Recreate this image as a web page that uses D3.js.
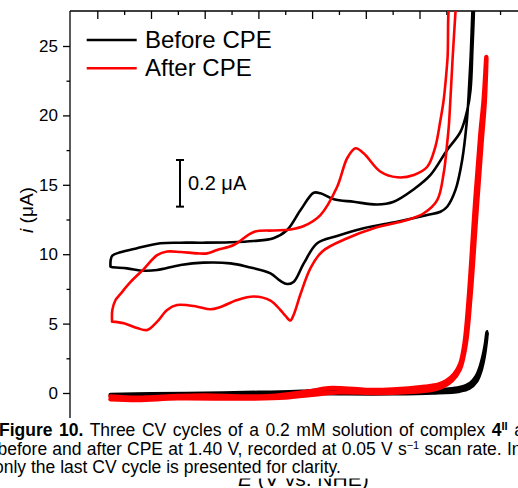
<!DOCTYPE html>
<html><head><meta charset="utf-8">
<script src="https://cdn.jsdelivr.net/npm/d3@7"></script>
<style>
html,body{margin:0;padding:0;background:#fff;}
svg{display:block;font-family:"Liberation Sans",Arial,Helvetica,sans-serif;}
</style></head><body>
<svg id="chart" width="518" height="488"></svg>
<script>
// Potential E (V vs. NHE), current i (µA)

// Expanded loops (scaled by the inset gain, drawn above the full-scale traces)
const beforeLoop = [
  [0.249, 9.11], [0.250, 9.60], [0.256, 9.90], [0.286, 10.14], [0.348, 10.43], [0.435, 10.79],
  [0.510, 10.83], [0.595, 10.83], [0.696, 10.86], [0.782, 10.95], [0.856, 11.15], [0.907, 11.74],
  [0.957, 13.18], [1.006, 14.43], [1.031, 14.39], [1.081, 13.96], [1.155, 13.78], [1.242, 13.58],
  [1.304, 13.78], [1.379, 14.68], [1.441, 15.71], [1.503, 17.51], [1.553, 18.83], [1.578, 20.39],
  [1.590, 21.83], [1.597, 24.71], [1.603, 28.3],
  [1.601, 28.7], [1.590, 23.99], [1.582, 21.11], [1.575, 19.31], [1.559, 16.79], [1.534, 14.63],
  [1.503, 13.42], [1.478, 13.06], [1.429, 12.82], [1.317, 12.34], [1.192, 11.87], [1.093, 11.31],
  [1.019, 10.79], [0.969, 9.34], [0.932, 8.02], [0.908, 7.85], [0.882, 8.07], [0.845, 8.62],
  [0.758, 9.10], [0.696, 9.34], [0.595, 9.39], [0.510, 9.22], [0.423, 8.86], [0.373, 8.81],
  [0.311, 8.98], [0.253, 9.08], [0.249, 9.11]
];
const afterLoop = [
  [0.255, 5.14], [0.256, 5.98], [0.268, 6.70], [0.286, 7.13], [0.324, 8.00], [0.373, 8.93],
  [0.423, 9.94], [0.460, 10.19], [0.510, 10.16], [0.572, 10.06], [0.609, 10.06], [0.646, 10.30],
  [0.708, 10.66], [0.783, 11.60], [0.857, 11.71], [0.919, 11.78], [0.969, 12.03], [1.031, 12.82],
  [1.093, 14.84], [1.131, 16.93], [1.162, 17.63], [1.192, 17.27], [1.255, 15.94], [1.317, 15.54],
  [1.379, 15.71], [1.429, 16.30], [1.459, 17.74], [1.478, 19.67], [1.490, 21.11], [1.504, 23.99],
  [1.519, 28.7],
  [1.538, 28.7], [1.534, 27.47], [1.523, 23.99], [1.515, 21.11], [1.509, 19.19], [1.503, 17.99],
  [1.490, 15.83], [1.466, 13.90], [1.416, 12.95], [1.354, 12.46], [1.230, 11.87], [1.131, 11.15],
  [1.038, 10.20], [0.994, 9.00], [0.957, 7.13], [0.931, 5.62], [0.919, 5.22], [0.901, 5.55],
  [0.882, 5.98], [0.845, 6.66], [0.783, 6.95], [0.721, 6.70], [0.659, 6.20], [0.621, 6.03],
  [0.572, 6.22], [0.497, 6.34], [0.460, 5.98], [0.423, 5.14], [0.386, 4.54], [0.348, 4.68],
  [0.299, 5.02], [0.255, 5.14]
];

// Full-scale traces
const beforeFull = [
  [0.249, -0.12], [0.40, -0.08], [0.60, -0.03], [0.80, 0.03], [0.96, 0.10], [1.03, 0.20],
  [1.10, 0.14], [1.25, 0.15], [1.40, 0.20], [1.50, 0.26], [1.55, 0.38], [1.59, 0.70],
  [1.612, 1.2], [1.627, 1.9], [1.638, 2.7], [1.646, 3.5], [1.652, 4.4],
  [1.648, 3.7], [1.640, 2.6], [1.628, 1.6], [1.612, 0.85], [1.585, 0.35], [1.55, 0.15],
  [1.45, 0.02], [1.30, -0.04], [1.10, -0.04], [0.95, -0.02], [0.80, -0.05], [0.60, -0.10],
  [0.40, -0.16], [0.249, -0.18]
];
const afterFull = [
  [0.249, -0.25], [0.35, -0.35], [0.50, -0.22], [0.60, -0.18], [0.75, -0.25], [0.85, -0.22],
  [0.95, 0.0], [1.00, 0.15], [1.06, 0.35], [1.12, 0.33], [1.20, 0.22], [1.30, 0.25],
  [1.42, 0.45], [1.47, 0.6], [1.50, 0.85], [1.53, 1.35], [1.552, 2.1], [1.568, 3.6],
  [1.583, 6.7], [1.608, 13.9], [1.627, 18.7], [1.639, 21.1], [1.649, 24.2],
  [1.643, 21.0], [1.631, 18.0], [1.612, 13.0], [1.59, 7.0], [1.572, 3.5], [1.55, 1.7],
  [1.52, 0.9], [1.47, 0.35], [1.40, 0.12], [1.25, 0.0], [1.10, 0.05], [1.00, -0.12],
  [0.90, -0.32], [0.75, -0.40], [0.50, -0.38], [0.35, -0.50], [0.249, -0.45]
];

const seriesNames = ["Before CPE", "After CPE"];
const seriesColors = ["#000000", "#ff0000"];

const yMajorTicks = [0, 5, 10, 15, 20, 25];
const yMinorTicks = [-2.5, 2.5, 7.5, 12.5, 17.5, 22.5];
const xMajorTicks = [0.2, 0.4, 0.6, 0.8, 1.0, 1.2, 1.4, 1.6, 1.8];
const xMinorTicks = [0.3, 0.5, 0.7, 0.9, 1.1, 1.3, 1.5, 1.7];

const scaleBarLabel = "0.2 μA";
const scaleBarCurrent = 0.2;   // µA represented by the bar
const insetGain = 16.8;        // expansion of the upper loops

const xTitle = "E (V vs. NHE)";
const captionLines = [
  [{t: "Figure 10.", b: true}, {t: " Three CV cycles of a 0.2 mM solution of complex "}, {t: "4", b: true}, {t: "II", b: true, sup: true}, {t: " a"}],
  [{t: "before and after CPE at 1.40 V, recorded at 0.05 V s"}, {t: "−1", sup: true}, {t: " scan rate. In"}],
  [{t: "only the last CV cycle is presented for clarity."}]
];

const W = 518, H = 488;
const plot = {left: 70, top: 11, bottom: 421};

const svg = d3.select("#chart");

const x = d3.scaleLinear().domain([0.2, 1.6]).range([97.3, 473.2]);
const y = d3.scaleLinear().domain([0, 25]).range([393, 46]);

svg.append("defs").append("clipPath").attr("id", "plotClip")
  .append("rect").attr("x", plot.left).attr("y", plot.top)
  .attr("width", W - plot.left + 20).attr("height", plot.bottom - plot.top);

// x-axis title sits low; the caption panel overlaps its upper part
svg.append("text").attr("x", 238).attr("y", 485.5)
  .attr("font-size", 21).attr("fill", "#000")
  .html('<tspan font-style="italic">E</tspan> (V vs. NHE)');

// axes
const axisColor = "#000";
svg.append("line").attr("x1", plot.left).attr("x2", plot.left)
  .attr("y1", plot.top).attr("y2", plot.bottom).attr("stroke", axisColor).attr("stroke-width", 1.3);
svg.append("line").attr("x1", plot.left).attr("x2", W + 5)
  .attr("y1", plot.top).attr("y2", plot.top).attr("stroke", axisColor).attr("stroke-width", 1.3);

const yAxis = svg.append("g").attr("transform", `translate(${plot.left},0)`)
  .call(d3.axisLeft(y).tickValues(yMajorTicks).tickSize(7).tickPadding(5).tickFormat(d3.format("d")));
yAxis.select(".domain").remove();
yAxis.selectAll(".tick line").attr("stroke-width", 1.3);
yAxis.selectAll(".tick text").attr("font-size", 17).attr("font-family", "Liberation Sans, Arial, sans-serif").attr("fill", "#000");

const yMinor = svg.append("g").attr("transform", `translate(${plot.left},0)`)
  .call(d3.axisLeft(y).tickValues(yMinorTicks).tickSize(3.5).tickFormat(""));
yMinor.select(".domain").remove();
yMinor.selectAll(".tick line").attr("stroke-width", 1.3);

const topMajor = svg.append("g").attr("transform", `translate(0,${plot.top})`)
  .call(d3.axisBottom(x).tickValues(xMajorTicks).tickSize(8).tickFormat(""));
topMajor.select(".domain").remove();
topMajor.selectAll(".tick line").attr("stroke-width", 1.3);
const topMinor = svg.append("g").attr("transform", `translate(0,${plot.top})`)
  .call(d3.axisBottom(x).tickValues(xMinorTicks).tickSize(4).tickFormat(""));
topMinor.select(".domain").remove();
topMinor.selectAll(".tick line").attr("stroke-width", 1.3);

// y title
svg.append("text")
  .attr("transform", "translate(33,210) rotate(-90)")
  .attr("text-anchor", "middle").attr("font-size", 19).attr("fill", "#000")
  .html('<tspan font-style="italic">i</tspan> (μA)');

// traces
const line = d3.line().x(d => x(d[0])).y(d => y(d[1])).curve(d3.curveCatmullRom.alpha(0.5));
const traces = svg.append("g").attr("clip-path", "url(#plotClip)")
  .attr("fill", "none").attr("stroke-linejoin", "round").attr("stroke-linecap", "round");

traces.append("path").datum(beforeLoop).attr("d", line)
  .attr("stroke", seriesColors[0]).attr("stroke-width", 2.6);
traces.append("path").datum(afterLoop).attr("d", line)
  .attr("stroke", seriesColors[1]).attr("stroke-width", 2.6);
traces.append("path").datum(beforeFull).attr("d", line)
  .attr("stroke", seriesColors[0]).attr("stroke-width", 4);
traces.append("path").datum(afterFull).attr("d", line)
  .attr("stroke", seriesColors[1]).attr("stroke-width", 4.5);

// legend
const legend = svg.append("g");
seriesNames.forEach((name, i) => {
  const ly = 40 + i * 28.3;
  legend.append("line").attr("x1", 86.7).attr("x2", 136.7).attr("y1", ly).attr("y2", ly)
    .attr("stroke", seriesColors[i]).attr("stroke-width", 2.6);
  legend.append("text").attr("x", 145).attr("y", ly + 7.5)
    .attr("font-size", 24).attr("fill", "#000").text(name);
});

// scale bar for the expanded loops
const barTop = 160;
const barLen = y(0) - y(scaleBarCurrent * insetGain);
const bar = svg.append("g").attr("stroke", "#000").attr("stroke-width", 2);
bar.append("line").attr("x1", 180).attr("x2", 180).attr("y1", barTop).attr("y2", barTop + barLen);
bar.append("line").attr("x1", 176).attr("x2", 184).attr("y1", barTop).attr("y2", barTop);
bar.append("line").attr("x1", 176).attr("x2", 184).attr("y1", barTop + barLen).attr("y2", barTop + barLen);
svg.append("text").attr("x", 188).attr("y", 190).attr("font-size", 20).attr("fill", "#000").text(scaleBarLabel);

// caption panel
svg.append("rect").attr("x", 0).attr("y", 418).attr("width", W).attr("height", 60.5).attr("fill", "#fff");
const capX = [-1, -2.5, -6];
const capY = [436, 454.7, 473.3];
const capEnd = [524, 521.5, null];
captionLines.forEach((parts, i) => {
  const t = svg.append("text").attr("x", capX[i]).attr("y", capY[i])
    .attr("font-size", 17.5).attr("fill", "#000");
  parts.forEach(p => {
    const s = t.append("tspan").text(p.t);
    if (p.b) s.attr("font-weight", "bold");
    if (p.sup) s.attr("font-size", 11).attr("baseline-shift", "super");
  });
  if (capEnd[i] !== null) {
    const w = t.node().getComputedTextLength();
    const n = parts.map(p => p.t).join("").split(" ").length - 1;
    const ws = (capEnd[i] - capX[i] - w) / n;
    t.style("word-spacing", ws + "px");
  }
});
</script>
</body></html>
